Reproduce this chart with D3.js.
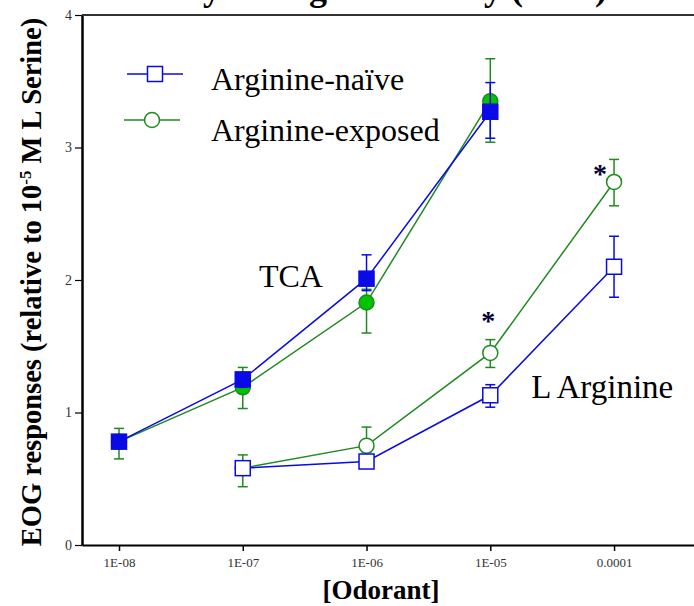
<!DOCTYPE html>
<html>
<head>
<meta charset="utf-8">
<script src="https://cdn.jsdelivr.net/npm/d3@7/dist/d3.min.js"></script>
<style>
  body { margin: 0; background: #fff; }
  svg { display: block; font-family: 'Liberation Serif', 'Times New Roman', serif; }
  .axis path, .axis line { stroke: #000; }
</style>
</head>
<body>
<div id="chart"></div>
<script>
// x axis: odorant concentration (M), log scale
const concentrations = [1e-8, 1e-7, 1e-6, 1e-5, 1e-4];
const xTickLabels = ['1E-08', '1E-07', '1E-06', '1E-05', '0.0001'];
const yTicks = [0, 1, 2, 3, 4];

// TCA curves
const tcaConc = [1e-8, 1e-7, 1e-6, 1e-5];
const tcaNaive = [0.78, 1.25, 2.01, 3.27];
const tcaNaiveHi = [0.82, 1.30, 2.19, 3.49];
const tcaNaiveLo = [0.74, 1.19, 1.92, 3.07];
const tcaExposed = [0.78, 1.19, 1.83, 3.35];
const tcaExposedHi = [0.88, 1.34, 1.93, 3.67];
const tcaExposedLo = [0.65, 1.03, 1.60, 3.04];

// L Arginine curves
const argConc = [1e-7, 1e-6, 1e-5, 1e-4];
const argNaive = [0.58, 0.63, 1.13, 2.10];
const argNaiveHi = [0.62, 0.66, 1.21, 2.33];
const argNaiveLo = [0.54, 0.60, 1.04, 1.87];
const argExposed = [0.58, 0.75, 1.45, 2.74];
const argExposedHi = [0.68, 0.89, 1.55, 2.91];
const argExposedLo = [0.44, 0.70, 1.34, 2.56];

// significance markers
const sigConc = [1e-5, 1e-4];
const sigValue = [1.72, 2.83];

const legendNames = ['Arginine-naïve', 'Arginine-exposed'];

const BLUE = '#0a0ae6';
const GREEN = '#1f8a1f';
const GREEN_FILL = '#00c400';
const SERIF = "'Liberation Serif', 'Times New Roman', serif";

class DoseResponseChart {
  constructor(_config) {
    this.config = {
      parentElement: _config.parentElement,
      containerWidth: 694,
      containerHeight: 606,
      margin: { top: 15, right: 0, bottom: 61, left: 82 },
    };
    this.initVis();
  }

  initVis() {
    const vis = this;
    vis.width = vis.config.containerWidth - vis.config.margin.left - vis.config.margin.right;
    vis.height = vis.config.containerHeight - vis.config.margin.top - vis.config.margin.bottom;

    vis.svg = d3.select(vis.config.parentElement).append('svg')
      .attr('width', vis.config.containerWidth)
      .attr('height', vis.config.containerHeight);

    vis.chart = vis.svg.append('g')
      .attr('transform', `translate(${vis.config.margin.left},${vis.config.margin.top})`);

    vis.xScale = d3.scaleLog()
      .domain([Math.pow(10, -8.299), Math.pow(10, -3.354)])
      .range([0, vis.width]);

    vis.yScale = d3.scaleLinear()
      .domain([0, 4])
      .range([vis.height, 0]);

    vis.series = [
      { conc: argConc, mean: argExposed, hi: argExposedHi, lo: argExposedLo, color: GREEN, shape: 'circle', fill: '#fff' },
      { conc: argConc, mean: argNaive, hi: argNaiveHi, lo: argNaiveLo, color: BLUE, shape: 'square', fill: '#fff' },
      { conc: tcaConc, mean: tcaExposed, hi: tcaExposedHi, lo: tcaExposedLo, color: GREEN, shape: 'circle', fill: GREEN_FILL },
      { conc: tcaConc, mean: tcaNaive, hi: tcaNaiveHi, lo: tcaNaiveLo, color: BLUE, shape: 'square', fill: BLUE },
    ];

    vis.renderVis();
  }

  drawMarker(g, shape, cx, cy, color, fill) {
    if (shape === 'square') {
      g.append('rect')
        .attr('x', cx - 7.5).attr('y', cy - 7.5)
        .attr('width', 15).attr('height', 15)
        .attr('fill', fill).attr('stroke', color).attr('stroke-width', 1.5);
    } else {
      g.append('circle')
        .attr('cx', cx).attr('cy', cy).attr('r', 7.5)
        .attr('fill', fill).attr('stroke', color).attr('stroke-width', 1.5);
    }
  }

  renderVis() {
    const vis = this;
    const x = vis.xScale;
    const y = vis.yScale;

    // title, mostly above the picture's top edge (as in the reference)
    vis.svg.append('text')
      .attr('x', 61).attr('y', 0)
      .attr('font-size', 36).attr('font-weight', 'bold')
      .text('Sensitivity of Arginine Study (2005)');

    // axes
    const xAxis = d3.axisBottom(x)
      .tickValues(concentrations)
      .tickFormat((d, i) => xTickLabels[i])
      .tickSize(6).tickSizeOuter(0).tickPadding(7);
    const yAxis = d3.axisLeft(y)
      .tickValues(yTicks)
      .tickFormat(d3.format('d'))
      .tickSize(7).tickSizeOuter(0).tickPadding(3);

    vis.chart.append('g')
      .attr('class', 'axis x-axis')
      .attr('transform', `translate(0,${vis.height})`)
      .call(xAxis)
      .attr('font-family', SERIF)
      .attr('font-size', 13)
      .call((g) => g.select('.domain').attr('stroke-width', 2))
      .call((g) => g.selectAll('.tick line').attr('stroke-width', 1.5))
      .call((g) => g.selectAll('.tick text').attr('fill', '#333'));

    vis.chart.append('g')
      .attr('class', 'axis y-axis')
      .call(yAxis)
      .attr('font-family', SERIF)
      .attr('font-size', 14)
      .call((g) => g.select('.domain').attr('stroke-width', 2.5))
      .call((g) => g.selectAll('.tick line').attr('stroke-width', 1.2))
      .call((g) => g.selectAll('.tick text').attr('fill', '#333'));

    // top frame line
    vis.chart.append('line')
      .attr('x1', 0).attr('x2', vis.width)
      .attr('y1', y(4)).attr('y2', y(4))
      .attr('stroke', '#333').attr('stroke-width', 2);

    // series: error bars, line, markers
    const line = d3.line().x((d) => x(d.c)).y((d) => y(d.m));
    vis.series.forEach((s) => {
      const pts = s.conc.map((c, i) => ({ c, m: s.mean[i], hi: s.hi[i], lo: s.lo[i] }));
      const g = vis.chart.append('g');

      const eb = g.selectAll('.err').data(pts).join('g').attr('class', 'err')
        .attr('stroke', s.color).attr('stroke-width', 1.5);
      eb.append('line')
        .attr('x1', (d) => x(d.c)).attr('x2', (d) => x(d.c))
        .attr('y1', (d) => y(d.hi)).attr('y2', (d) => y(d.lo));
      eb.append('line')
        .attr('x1', (d) => x(d.c) - 5).attr('x2', (d) => x(d.c) + 5)
        .attr('y1', (d) => y(d.hi)).attr('y2', (d) => y(d.hi));
      eb.append('line')
        .attr('x1', (d) => x(d.c) - 5).attr('x2', (d) => x(d.c) + 5)
        .attr('y1', (d) => y(d.lo)).attr('y2', (d) => y(d.lo));

      g.append('path')
        .attr('d', line(pts))
        .attr('fill', 'none').attr('stroke', s.color).attr('stroke-width', 1.5);

      pts.forEach((d) => vis.drawMarker(g, s.shape, x(d.c), y(d.m), s.color, s.fill));
    });

    // significance asterisks
    vis.chart.selectAll('.sig').data(sigConc).join('text')
      .attr('class', 'sig')
      .attr('x', (d, i) => x(d) - (i === 1 ? 14 : 2))
      .attr('y', (d, i) => y(sigValue[i]) + 13)
      .attr('text-anchor', 'middle')
      .attr('font-size', 28).attr('font-weight', 'bold')
      .attr('fill', '#000033')
      .text('*');

    // curve labels
    vis.chart.append('text')
      .attr('x', x(1.35e-7)).attr('y', y(1.95))
      .attr('font-size', 32)
      .text('TCA');
    vis.chart.append('text')
      .attr('x', x(2.14e-5)).attr('y', y(1.11))
      .attr('font-size', 33)
      .text('L Arginine');

    // legend
    const legend = vis.svg.append('g').attr('transform', 'translate(125,74)');
    const legendItems = [
      { color: BLUE, shape: 'square', dx: 2, textY: 16 },
      { color: GREEN, shape: 'circle', dx: -1, textY: 21 },
    ];
    legendItems.forEach((it, i) => {
      const row = legend.append('g').attr('transform', `translate(${it.dx},${i * 46})`);
      row.append('line')
        .attr('x1', 0).attr('x2', 56).attr('y1', 0).attr('y2', 0)
        .attr('stroke', it.color).attr('stroke-width', 1.5);
      vis.drawMarker(row, it.shape, 28, 0, it.color, '#fff');
      row.append('text')
        .attr('x', 86 - it.dx).attr('y', it.textY)
        .attr('font-size', 32)
        .text(legendNames[i]);
    });

    // axis titles
    vis.svg.append('text')
      .attr('transform', `translate(41,${282}) rotate(-90)`)
      .attr('text-anchor', 'middle')
      .attr('font-size', 28.5).attr('font-weight', 'bold')
      .call((t) => {
        t.append('tspan').text('EOG responses (relative to 10');
        t.append('tspan').attr('dy', -10).attr('font-size', 17).text('-5');
        t.append('tspan').attr('dy', 10).text(' M L Serine)');
      });

    vis.svg.append('text')
      .attr('x', 381).attr('y', 599)
      .attr('text-anchor', 'middle')
      .attr('font-size', 27).attr('font-weight', 'bold')
      .text('[Odorant]');
  }
}

new DoseResponseChart({ parentElement: '#chart' });
</script>
</body>
</html>
